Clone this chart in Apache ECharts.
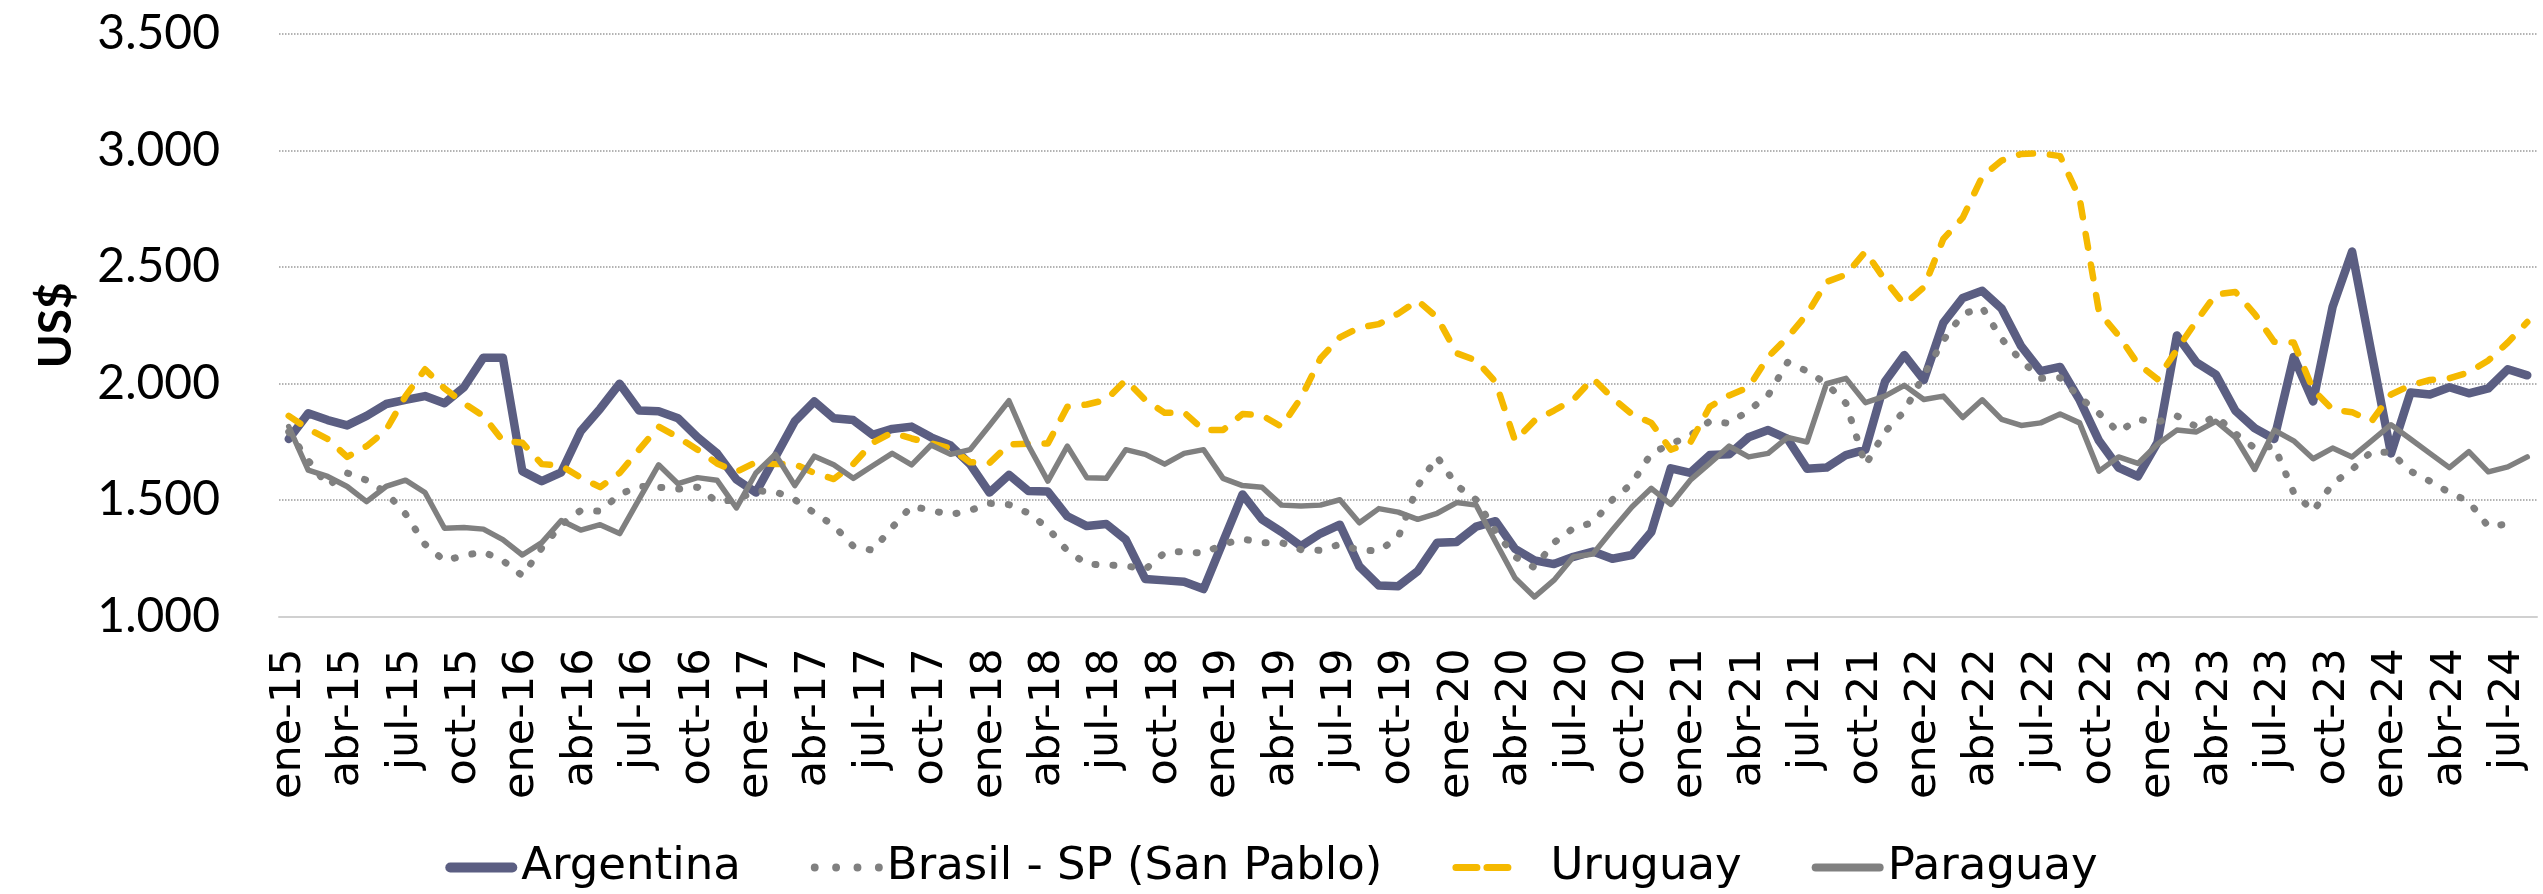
<!DOCTYPE html>
<html>
<head>
<meta charset="utf-8">
<script src="https://cdn.jsdelivr.net/npm/echarts@6/dist/echarts.min.js"></script>
<style>
  html, body { margin: 0; padding: 0; background: #ffffff; }
  #c { width: 2543px; height: 894px; }
</style>
</head>
<body>
<div id="c"></div>
<script>
// ---- tick label pieces ----
const monthNames = ['ene','feb','mar','abr','may','jun','jul','ago','sep','oct','nov','dic'];
const years = ['15','16','17','18','19','20','21','22','23','24'];
const lastMonthIndex2024 = 7; // series run to ago-24

const categories = [];
for (const y of years) {
  for (let m = 0; m < 12; m++) {
    if (y === '24' && m > lastMonthIndex2024) break;
    categories.push(monthNames[m] + '-' + y);
  }
}

// ---- series values (US$) ----
const argentina = [
  1762,1872,1843,1820,1861,1912,1930,1946,1915,1984,
  2111,2111,1624,1581,1619,1795,1892,1999,1884,1881,
  1851,1769,1700,1588,1532,1685,1838,1923,1851,1843,
  1780,1805,1815,1769,1734,1654,1532,1608,1539,1536,
  1430,1388,1397,1330,1161,1155,1149,1118,1321,1524,
  1417,1363,1302,1356,1394,1215,1133,1130,1195,1317,
  1320,1386,1409,1290,1241,1225,1256,1279,1248,1264,
  1363,1636,1616,1693,1696,1769,1800,1762,1634,1639,
  1693,1716,2007,2122,2015,2260,2367,2398,2321,2160,
  2053,2071,1930,1754,1639,1601,1746,2206,2091,2038,
  1884,1808,1762,2114,1923,2329,2566,2130,1700,1961,
  1953,1984,1958,1979,2061,2035
];
const brasil = [
  1792,1670,1562,1616,1585,1532,1440,1310,1239,1262,
  1277,1240,1175,1294,1394,1455,1452,1524,1559,1555,
  1547,1555,1493,1501,1539,1536,1501,1445,1390,1302,
  1284,1382,1474,1455,1437,1455,1486,1480,1444,1379,
  1282,1225,1221,1218,1202,1274,1279,1271,1310,1333,
  1317,1317,1287,1284,1310,1284,1282,1340,1560,1685,
  1562,1501,1366,1256,1210,1317,1379,1403,1501,1570,
  1700,1740,1777,1838,1829,1884,1949,2091,2053,1999,
  1915,1650,1792,1881,2036,2185,2298,2326,2191,2099,
  2022,2025,1941,1872,1792,1846,1835,1861,1815,1861,
  1785,1723,1731,1532,1452,1570,1631,1708,1703,1624,
  1581,1532,1493,1386,1397,null
];
const uruguay = [
  1861,1805,1762,1685,1731,1800,1946,2061,1979,1915,
  1861,1754,1746,1654,1647,1596,1555,1616,1716,1815,
  1769,1716,1657,1621,1662,1654,1654,1616,1590,1654,
  1746,1789,1764,1743,1722,1662,1659,1739,1742,1743,
  1900,1910,1930,2015,1930,1874,1876,1800,1800,1869,
  1863,1815,1938,2107,2198,2240,2255,2300,2356,2283,
  2130,2099,2007,1754,1841,1884,1931,2022,1938,1869,
  1831,1716,1746,1900,1949,1984,2114,2198,2298,2436,
  2467,2566,2444,2340,2413,2620,2712,2888,2957,2985,
  2988,2976,2796,2306,2206,2084,2019,2145,2268,2382,
  2393,2298,2179,2176,1973,1888,1877,1838,1953,1992,
  2015,2022,2048,2099,2176,2264
];
const paraguay = [
  1815,1628,1601,1558,1493,1558,1585,1532,1379,1382,
  1375,1330,1264,1317,1412,1371,1394,1356,1504,1651,
  1570,1596,1585,1466,1616,1696,1562,1688,1651,1593,
  1647,1700,1651,1736,1696,1716,1820,1926,1734,1581,
  1731,1596,1593,1716,1696,1654,1700,1716,1593,1562,
  1555,1478,1474,1478,1501,1402,1463,1448,1417,1443,
  1489,1478,1320,1165,1084,1156,1256,1268,1371,1470,
  1550,1481,1585,1657,1731,1685,1700,1769,1749,1999,
  2022,1918,1946,1992,1931,1946,1854,1930,1846,1820,
  1831,1869,1831,1624,1685,1657,1739,1800,1792,1838,
  1769,1631,1800,1754,1677,1723,1685,1754,1823,1762,
  1700,1639,1708,1621,1642,1685
];

const seriesNames = ['Argentina', 'Brasil - SP (San Pablo)', 'Uruguay', 'Paraguay'];
const yTicks = { min: 1000, max: 3500, step: 500 };
const yTitle = 'US$';

const FONT_NUM = 'Lato, "Liberation Sans", sans-serif';
const FONT_TXT = '"DejaVu Sans", Lato, sans-serif';
const C_ARG = '#5B5E82';
const C_GRAY = '#808080';
const C_URU = '#F5B900';

// legend glyphs (shapes only; scaled by the legend box)
const ICON_PILL_10 = 'path://M5,0 L67,0 A5,5 0 0 1 67,10 L5,10 A5,5 0 0 1 5,0 Z';
const ICON_PILL_8 = 'path://M4,0 L68,0 A4,4 0 0 1 68,8 L4,8 A4,4 0 0 1 4,0 Z';
const ICON_DOTS = 'path://' +
  'M0,3.5 A3.5,3.5 0 1 0 7,3.5 A3.5,3.5 0 1 0 0,3.5 Z ' +
  'M19,3.5 A3.5,3.5 0 1 0 26,3.5 A3.5,3.5 0 1 0 19,3.5 Z ' +
  'M38,3.5 A3.5,3.5 0 1 0 45,3.5 A3.5,3.5 0 1 0 38,3.5 Z ' +
  'M57,3.5 A3.5,3.5 0 1 0 64,3.5 A3.5,3.5 0 1 0 57,3.5 Z';
const ICON_DASH = 'path://' +
  'M3.5,0 L24.5,0 A3.5,3.5 0 0 1 24.5,7 L3.5,7 A3.5,3.5 0 0 1 3.5,0 Z ' +
  'M34.5,0 L55.5,0 A3.5,3.5 0 0 1 55.5,7 L34.5,7 A3.5,3.5 0 0 1 34.5,0 Z ' +
  'M71.9,3.5 L72,3.5 Z';

function fmtThousands(v) {
  return String(v).replace(/\B(?=(\d{3})+(?!\d))/g, '.');
}

const chart = echarts.init(document.getElementById('c'), null, { renderer: 'canvas' });

const option = {
  animation: false,
  backgroundColor: '#ffffff',
  grid: { left: 279, right: 6, top: 34, bottom: 277.5 },
  legend: {
    data: [
      { name: seriesNames[0], icon: ICON_PILL_10, itemStyle: { color: C_ARG, borderWidth: 0 } },
      { name: seriesNames[1], icon: ICON_DOTS, itemStyle: { color: C_GRAY, borderWidth: 0 } },
      { name: seriesNames[2], icon: ICON_DASH, itemStyle: { color: C_URU, borderWidth: 0 } },
      { name: seriesNames[3], icon: ICON_PILL_8, itemStyle: { color: C_GRAY, borderWidth: 0 } }
    ],
    top: 840,
    left: 'center',
    itemWidth: 72,
    itemHeight: 10,
    itemGap: 70,
    symbolKeepAspect: true,
    itemStyle: { borderWidth: 0 },
    formatter: function (name) {
      return name === seriesNames[2] ? '{pad|' + name + '}' : name;
    },
    textStyle: {
      fontFamily: FONT_TXT, fontSize: 45, color: '#000000', padding: [0, 0, 0, -1],
      rich: { pad: { fontFamily: FONT_TXT, fontSize: 45, color: '#000000', padding: [0, 0, 0, 22] } }
    }
  },
  xAxis: {
    type: 'category',
    data: categories,
    boundaryGap: true,
    axisLine: { show: true, lineStyle: { color: '#D0D0D0', width: 2 } },
    axisTick: { show: false },
    splitLine: { show: false },
    axisLabel: {
      interval: 2,
      rotate: 90,
      margin: 32,
      fontFamily: FONT_TXT,
      fontSize: 43,
      color: '#000000'
    }
  },
  yAxis: {
    type: 'value',
    min: yTicks.min,
    max: yTicks.max,
    interval: yTicks.step,
    name: yTitle,
    nameLocation: 'middle',
    nameRotate: 90,
    nameGap: 200,
    nameTextStyle: { fontFamily: FONT_NUM, fontSize: 46, fontWeight: 'bold', color: '#000000' },
    axisLine: { show: false },
    axisTick: { show: false },
    axisLabel: {
      margin: 59,
      fontFamily: FONT_NUM,
      fontSize: 48,
      color: '#000000',
      formatter: fmtThousands
    },
    splitLine: { show: true, lineStyle: { type: 'dotted', color: '#9A9A9A', width: 1.5 } }
  },
  series: [
    {
      name: seriesNames[0], type: 'line', data: argentina, symbol: 'none',
      itemStyle: { color: C_ARG },
      lineStyle: { color: C_ARG, width: 8.5, cap: 'round', join: 'round' }
    },
    {
      name: seriesNames[1], type: 'line', data: brasil, symbol: 'none',
      itemStyle: { color: C_GRAY },
      lineStyle: { color: C_GRAY, width: 7, type: [1, 17], cap: 'round', join: 'round' }
    },
    {
      name: seriesNames[2], type: 'line', data: uruguay, symbol: 'none',
      itemStyle: { color: C_URU },
      lineStyle: { color: C_URU, width: 6.5, type: [14, 17], cap: 'round', join: 'round' }
    },
    {
      name: seriesNames[3], type: 'line', data: paraguay, symbol: 'none',
      itemStyle: { color: C_GRAY },
      lineStyle: { color: C_GRAY, width: 5.5, cap: 'round', join: 'round' }
    }
  ]
};
chart.setOption(option);
</script>
</body>
</html>
